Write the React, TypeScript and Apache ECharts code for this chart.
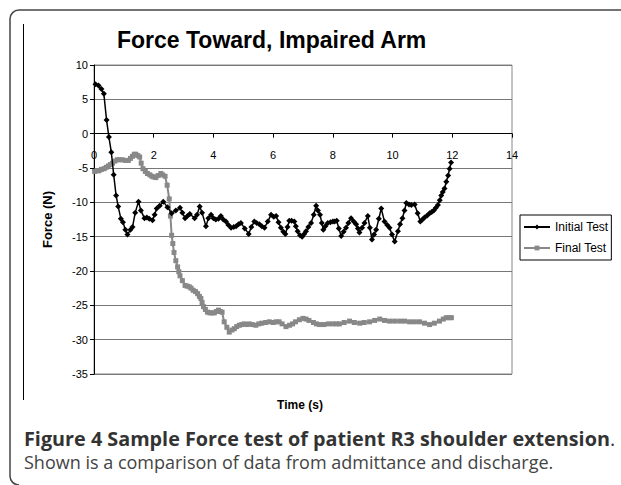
import React, { useEffect, useRef } from "react";
import * as echarts from "echarts";

const initialTime = [0.05,0.15,0.25,0.33,0.42,0.5,0.58,0.66,0.74,0.81,0.9,0.97,1.05,1.12,1.22,1.29,1.38,1.49,1.57,1.69,1.77,1.85,1.96,2.03,2.1,2.2,2.32,2.46,2.6,2.74,2.88,2.96,3.05,3.13,3.21,3.37,3.45,3.54,3.62,3.75,3.83,3.92,4.0,4.08,4.17,4.25,4.33,4.42,4.5,4.59,4.68,4.76,4.84,4.92,5.05,5.18,5.27,5.37,5.45,5.54,5.62,5.71,5.82,5.93,6.02,6.1,6.18,6.26,6.34,6.41,6.48,6.54,6.62,6.71,6.76,6.82,6.9,6.97,7.04,7.1,7.18,7.27,7.36,7.44,7.5,7.57,7.63,7.68,7.75,7.83,7.92,8.0,8.06,8.13,8.2,8.28,8.36,8.44,8.52,8.61,8.7,8.78,8.84,8.89,8.98,9.06,9.17,9.24,9.31,9.38,9.45,9.54,9.62,9.73,9.82,9.9,9.98,10.07,10.18,10.25,10.33,10.4,10.46,10.55,10.63,10.74,10.84,10.93,11.0,11.07,11.16,11.24,11.31,11.38,11.45,11.52,11.58,11.63,11.68,11.74,11.8,11.86,11.91,11.96];
const initialForce = [7.2,7.0,6.5,5.8,2.0,-0.5,-2.7,-6.0,-9.0,-10.6,-12.4,-12.9,-14.0,-14.7,-14.0,-13.6,-11.5,-9.9,-11.2,-12.3,-12.2,-12.4,-12.6,-11.8,-10.9,-10.5,-9.9,-10.7,-11.6,-11.2,-10.8,-11.5,-12.3,-12.0,-11.7,-12.3,-11.8,-10.6,-11.5,-13.5,-12.3,-11.8,-12.3,-12.5,-12.4,-12.0,-12.5,-12.8,-13.3,-13.7,-13.6,-13.5,-13.2,-13.0,-13.8,-14.6,-13.6,-12.8,-13.0,-13.2,-13.5,-13.7,-12.8,-11.8,-12.1,-12.0,-12.9,-13.7,-14.3,-14.6,-13.6,-12.7,-12.7,-12.8,-13.5,-14.2,-14.8,-15.0,-14.6,-14.2,-13.6,-13.0,-11.8,-10.5,-11.2,-11.8,-13.0,-14.0,-13.5,-13.0,-12.9,-12.8,-12.8,-12.7,-13.8,-14.9,-14.3,-13.7,-13.0,-12.3,-12.8,-13.2,-13.8,-14.4,-13.7,-13.0,-12.0,-13.7,-15.4,-14.7,-14.0,-12.4,-10.9,-12.8,-13.3,-13.7,-14.7,-15.7,-14.2,-13.2,-12.3,-11.2,-10.1,-10.3,-10.4,-10.3,-11.6,-12.8,-12.5,-12.2,-11.9,-11.6,-11.4,-11.2,-10.8,-10.4,-9.7,-9.0,-8.5,-8.0,-7.0,-6.1,-5.1,-4.2];

const finalTime = [0.02,0.1,0.17,0.25,0.34,0.41,0.48,0.55,0.62,0.7,0.78,0.86,0.95,1.05,1.15,1.22,1.29,1.35,1.4,1.47,1.53,1.58,1.64,1.72,1.79,1.87,1.94,2.0,2.07,2.15,2.24,2.3,2.38,2.45,2.52,2.56,2.6,2.64,2.68,2.74,2.8,2.84,2.88,2.96,3.05,3.12,3.19,3.25,3.32,3.4,3.47,3.53,3.58,3.62,3.67,3.73,3.8,3.88,3.95,4.03,4.1,4.17,4.23,4.29,4.36,4.45,4.53,4.62,4.7,4.78,4.87,4.95,5.03,5.12,5.2,5.3,5.42,5.52,5.62,5.75,5.87,6.0,6.1,6.2,6.3,6.43,6.55,6.65,6.75,6.88,7.0,7.1,7.2,7.35,7.45,7.55,7.7,7.85,8.0,8.12,8.22,8.38,8.56,8.72,8.9,9.05,9.23,9.4,9.57,9.73,9.9,10.07,10.24,10.4,10.57,10.73,10.9,11.07,11.24,11.4,11.57,11.7,11.8,11.9,11.97];
const finalForce = [-5.5,-5.4,-5.4,-5.2,-5.1,-4.9,-4.7,-4.5,-4.3,-4.0,-3.8,-3.8,-3.8,-3.9,-3.9,-3.6,-3.3,-3.0,-3.0,-3.2,-3.4,-4.3,-5.1,-5.5,-5.8,-6.0,-6.2,-6.3,-6.4,-6.1,-5.8,-6.0,-6.2,-7.5,-9.5,-12.0,-14.8,-16.0,-17.3,-18.5,-19.4,-20.1,-20.7,-21.4,-22.1,-22.2,-22.3,-22.5,-22.8,-23.0,-23.3,-23.7,-24.0,-24.6,-25.2,-25.6,-26.0,-26.1,-26.1,-26.1,-25.9,-25.7,-25.9,-26.0,-27.4,-28.2,-28.9,-28.6,-28.4,-28.1,-27.9,-27.8,-27.7,-27.8,-27.7,-27.8,-27.9,-27.7,-27.6,-27.5,-27.4,-27.5,-27.4,-27.4,-27.7,-28.1,-27.9,-27.7,-27.4,-27.1,-26.9,-27.0,-27.2,-27.5,-27.7,-27.8,-27.8,-27.7,-27.7,-27.7,-27.7,-27.5,-27.3,-27.5,-27.6,-27.5,-27.4,-27.2,-27.0,-27.2,-27.3,-27.3,-27.3,-27.3,-27.4,-27.4,-27.4,-27.6,-27.8,-27.6,-27.3,-27.0,-26.8,-26.8,-26.8];

const seriesNames = ["Initial Test", "Final Test"];
const titleText = "Force Toward, Impaired Arm";
const xAxisName = "Time (s)";
const yAxisName = "Force (N)";
const captionBold = "Figure 4 Sample Force test of patient R3 shoulder extension";
const captionLine2 = "Shown is a comparison of data from admittance and discharge.";

const Y_MIN = -35;
const Y_MAX = 10;
const GRID_TOP = 65;
const GRID_BOTTOM = 111;
const CHART_H = 485;

const pairs = (xs: number[], ys: number[]) => xs.map((x, i) => [x, ys[i]]);

export default function App() {
  const ref = useRef<HTMLDivElement>(null);
  useEffect(() => {
    if (!ref.current) return;
    const chart = echarts.init(ref.current, null, { renderer: "svg" });
    const font = "Liberation Sans, Arial, sans-serif";
    const plotH = CHART_H - GRID_TOP - GRID_BOTTOM;
    // shift the x axis up so it crosses the y axis at 0 (Excel style)
    const zeroOffset = -plotH * (0 - Y_MIN) / (Y_MAX - Y_MIN);
    chart.setOption({
      animation: false,
      backgroundColor: "#fff",
      title: {
        text: titleText,
        left: 117,
        top: 28,
        padding: 0,
        textStyle: { fontFamily: font, fontSize: 23, fontWeight: "bold", color: "#000" },
      },
      grid: {
        left: 94,
        right: 109,
        top: GRID_TOP,
        bottom: GRID_BOTTOM,
        show: true,
        borderColor: "#888",
        borderWidth: 1,
        backgroundColor: "transparent",
      },
      legend: {
        orient: "vertical",
        left: 520,
        top: 215,
        padding: [6, 3, 6, 3],
        itemGap: 9,
        itemWidth: 26,
        itemHeight: 6,
        borderColor: "#000",
        borderWidth: 1,
        textStyle: { fontFamily: font, fontSize: 12, color: "#000" },
        data: seriesNames,
      },
      xAxis: {
        type: "value",
        min: 0,
        max: 14,
        interval: 2,
        position: "bottom",
        offset: zeroOffset,
        axisLine: { onZero: false, lineStyle: { color: "#000", width: 1 } },
        axisTick: { show: true, length: 4, lineStyle: { color: "#000" } },
        axisLabel: { fontFamily: font, fontSize: 11, color: "#000", margin: 16 },
        splitLine: { show: false },
      },
      yAxis: {
        type: "value",
        min: Y_MIN,
        max: Y_MAX,
        interval: 5,
        name: yAxisName,
        nameLocation: "middle",
        nameGap: 40,
        nameRotate: 90,
        nameTextStyle: { fontFamily: font, fontSize: 13, fontWeight: "bold", color: "#000" },
        axisLine: { show: true, onZero: false, lineStyle: { color: "#000", width: 1 } },
        axisTick: { show: true, length: 4, lineStyle: { color: "#000" } },
        axisLabel: { fontFamily: font, fontSize: 11, color: "#000", margin: 6 },
        splitLine: { show: true, lineStyle: { color: "#777", width: 1.2 } },
      },
      series: [
        {
          name: seriesNames[0],
          type: "line",
          data: pairs(initialTime, initialForce),
          symbol: "diamond",
          symbolSize: 6,
          itemStyle: { color: "#000" },
          lineStyle: { color: "#000", width: 1.5 },
          z: 3,
        },
        {
          name: seriesNames[1],
          type: "line",
          data: pairs(finalTime, finalForce),
          symbol: "rect",
          symbolSize: 5,
          itemStyle: { color: "#888" },
          lineStyle: { color: "#888", width: 2 },
          z: 2,
        },
      ],
      graphic: [
        { type: "rect", shape: { x: 614, y: 11.5, width: 10, height: 480 }, style: { fill: "#fff" }, z: 100, silent: true },
        { type: "line", shape: { x1: 19, y1: 10, x2: 621, y2: 10 }, style: { stroke: "#444", lineWidth: 1.5 }, silent: true },
        { type: "line", shape: { x1: 10, y1: 19, x2: 10, y2: 476 }, style: { stroke: "#444", lineWidth: 1.5 }, silent: true },
        { type: "arc", shape: { cx: 19, cy: 19, r: 9, startAngle: Math.PI, endAngle: Math.PI * 1.5 }, style: { stroke: "#444", lineWidth: 1.5, fill: "none" }, silent: true },
        { type: "arc", shape: { cx: 19, cy: 476, r: 9, startAngle: Math.PI * 0.5, endAngle: Math.PI }, style: { stroke: "#444", lineWidth: 1.5, fill: "none" }, silent: true },
        {
          type: "line",
          shape: { x1: 23.5, y1: 24, x2: 23.5, y2: 400 },
          style: { stroke: "#000", lineWidth: 1 },
          silent: true,
        },
        {
          type: "text",
          x: 300,
          y: 405,
          style: { text: xAxisName, fontFamily: font, fontSize: 12, fontWeight: "bold", fill: "#000", align: "center", verticalAlign: "middle" },
        },
        {
          type: "text",
          x: 24,
          y: 438,
          style: {
            text: "{b|" + captionBold + "}{n|.}",
            verticalAlign: "middle",
            rich: {
              b: { fontFamily: "Open Sans", fontSize: 19.8, fontWeight: "bold", fill: "#333" },
              n: { fontFamily: "Open Sans", fontSize: 19.8, fill: "#333" },
            },
          },
        },
        {
          type: "text",
          x: 24,
          y: 462,
          style: { text: captionLine2, fontFamily: "Open Sans", fontSize: 18, fill: "#444", verticalAlign: "middle" },
        },
      ],
    });
    return () => chart.dispose();
  }, []);
  return (
    <div
      ref={ref}
      style={{ position: "fixed", left: 0, top: 0, width: 621, height: 485, background: "#fff" }}
    />
  );
}
